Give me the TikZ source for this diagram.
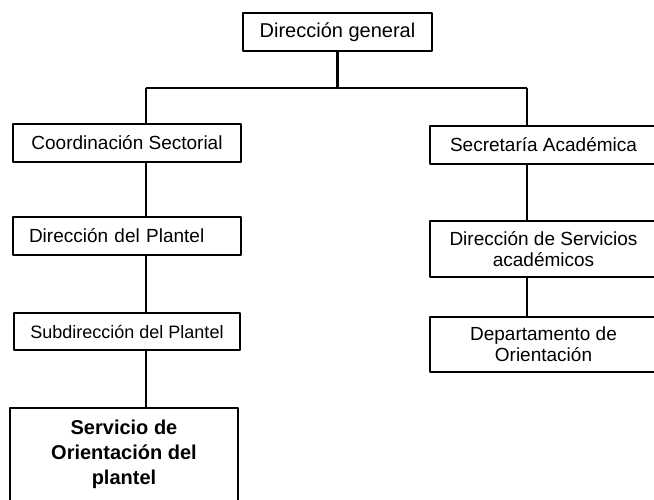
\documentclass[tikz,border=0pt]{standalone}
\usepackage{fontspec}
\setmainfont{Liberation Sans}
\usepackage{tikz}
\tikzset{
  box/.style={draw, line width=1pt, rectangle, inner sep=0pt, align=center,
    font=\fontsize{9.5}{10.5}\selectfont},
  link/.style={line width=1pt}
}

\begin{document}
\begin{tikzpicture}[x=0.5pt, y=-0.5pt, line join=round]
\useasboundingbox (0,0) rectangle (654,499);
\fill[white] (0,0) rectangle (654,499);

\node[box, minimum width=94.5pt, minimum height=19pt, font=\fontsize{10}{12}\selectfont] (dg) at (337.5,32) {Dirección general};
\coordinate (barL) at (146,88);
\coordinate (barR) at (527,88);

\node[box, minimum width=114pt, minimum height=19pt] (cs) at (127,143) {Coordinación Sectorial};
\node[box, text width=98pt, inner xsep=8pt, align=left, minimum height=19pt] (dp) at (127,236) {Dirección del Plantel};
\node[box, minimum width=113pt, minimum height=18.5pt, font=\fontsize{9}{10}\selectfont] (sd) at (127,331.5) {Subdirección del Plantel};
\node[box, anchor=north, inner xsep=2pt, inner ysep=5.8pt] (so) at (124,407)
  {\parbox[c][52pt][t]{110pt}{\centering\bfseries\fontsize{10}{12.5}\selectfont Servicio de\\Orientación del\\plantel}};

\node[box, minimum width=113.5pt, minimum height=19pt] (sa) at (543.5,145) {Secretaría Académica};
\node[box, minimum width=113.5pt, minimum height=28pt] (ds) at (543.5,249) {Dirección de Servicios\\académicos};
\node[box, minimum width=113.5pt, minimum height=27.5pt] (do) at (543.5,344.5) {Departamento de\\Orientación};

\draw[link, line width=1.4pt] (dg.south) -- (dg.south |- barL);
\draw[link] (barL) -- (barR);
\draw[link] (barL) -- (barL |- cs.north);
\draw[link] (barR) -- (barR |- sa.north);
\draw[link] (barL |- cs.south) -- (barL |- dp.north);
\draw[link] (barL |- dp.south) -- (barL |- sd.north);
\draw[link] (barL |- sd.south) -- (barL |- so.north);
\draw[link] (barR |- sa.south) -- (barR |- ds.north);
\draw[link] (barR |- ds.south) -- (barR |- do.north);
\end{tikzpicture}
\end{document}
